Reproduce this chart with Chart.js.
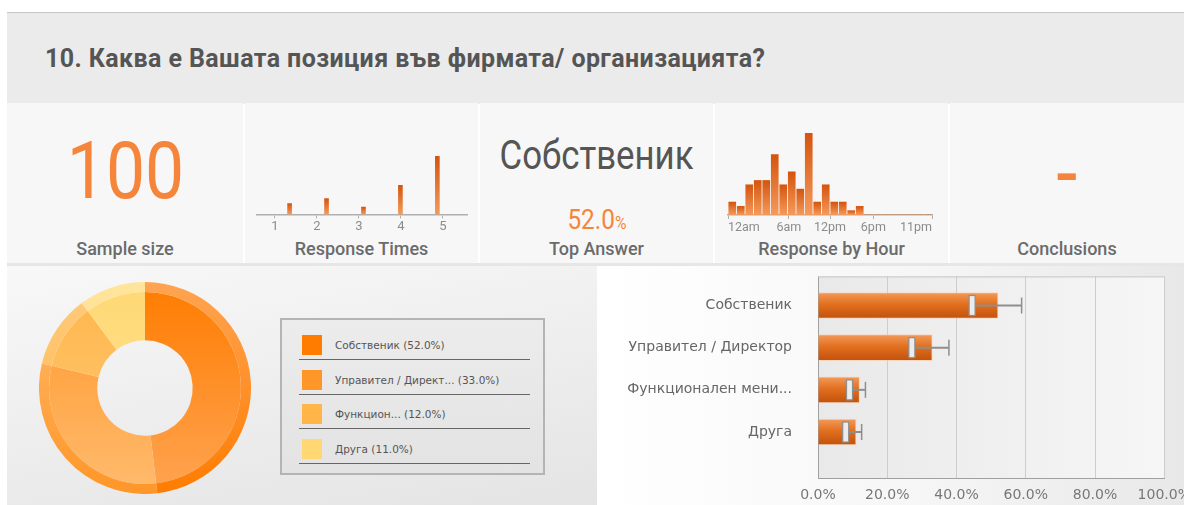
<!DOCTYPE html>
<html>
<head>
<meta charset="utf-8">
<script src="https://cdn.jsdelivr.net/npm/chart.js@4.4.1/dist/chart.umd.min.js"></script>
<style>
  body { margin: 0; width: 1184px; height: 505px; overflow: hidden; background: #fff; position: relative; font-family: Roboto, "Noto Sans", sans-serif; }
  .abs { position: absolute; }
  #header { left: 7px; top: 12px; width: 1177px; height: 91px; background: #ebebeb; border-top: 1px solid #c6c6c6; }
  #title { left: 45px; top: 44px; font-weight: 700; font-size: 25px; color: #555; white-space: nowrap; letter-spacing: 0.4px; }
  .panel { top: 103px; height: 160px; background: #f7f7f7; }
  .cap { position: absolute; left: 0; width: 100%; top: 135px; text-align: center; font-size: 18px; font-weight: 500; color: #6b6b6b; }
  .cond { display: inline-block; transform: scaleX(0.87); transform-origin: center; }
  #rowline { left: 7px; top: 263px; width: 1177px; height: 3px; background: #e6e6e6; }
  #botLeft { left: 7px; top: 266px; width: 590px; height: 239px; background: linear-gradient(170deg, #f8f8f8 0%, #e4e4e4 100%); }
  #botRight { left: 599px; top: 266px; width: 585px; height: 239px; background: linear-gradient(to right, #ffffff 0%, #f6f6f6 55%, #e8e8e8 100%); }
  #legendBox { left: 280px; top: 318px; width: 261px; height: 153px; border: 2px solid #b4b4b4; background: linear-gradient(#ececec, #e3e3e3); }
  .lgItem { position: absolute; left: 17px; width: 231px; height: 33px; border-bottom: 1px solid #666; }
  .lgSw { position: absolute; left: 3px; top: 9px; width: 20px; height: 20px; }
  .lgTx { position: absolute; left: 36px; top: 13px; font-family: "DejaVu Sans", sans-serif; font-size: 10.5px; color: #555; white-space: nowrap; }
</style>
</head>
<body>
<div id="header" class="abs"></div>
<div id="title" class="abs">10. Каква е Вашата позиция във фирмата/ организацията?</div>

<div class="abs panel" style="left:7px;width:236px;">
  <div class="abs" style="left:0;width:100%;top:21px;text-align:center;font-size:80px;font-weight:400;color:#f5853a;"><span id="sample" class="cond"></span></div>
  <div class="cap">Sample size</div>
</div>
<div class="abs panel" style="left:245px;width:233px;"><div class="cap">Response Times</div></div>
<div class="abs panel" style="left:480px;width:233px;">
  <div class="abs" style="left:0;width:100%;top:29px;text-align:center;font-size:40px;color:#555;"><span id="topName" class="cond"></span></div>
  <div class="abs" style="left:0;width:100%;top:100px;text-align:center;font-size:28px;color:#f5853a;"><span id="topPct" class="cond"></span></div>
  <div class="cap">Top Answer</div>
</div>
<div class="abs panel" style="left:715px;width:233px;"><div class="cap">Response by Hour</div></div>
<div class="abs panel" style="left:950px;width:234px;">
  <div class="abs" style="left:0;width:100%;top:30px;text-align:center;font-size:70px;font-weight:500;color:#f5853a;">-</div>
  <div class="cap">Conclusions</div>
</div>
<div id="rowline" class="abs"></div>

<canvas id="rtChart" class="abs" style="left:256px;top:140px;" width="212" height="96"></canvas>
<canvas id="hourChart" class="abs" style="left:727px;top:133px;" width="206" height="103"></canvas>

<div id="botLeft" class="abs"></div>
<div id="botRight" class="abs"></div>
<canvas id="donut" class="abs" style="left:39px;top:282px;" width="212" height="212"></canvas>
<div id="legendBox" class="abs"></div>
<canvas id="barChart" class="abs" style="left:600px;top:250px;" width="600" height="263"></canvas>

<script>
// ---- data ----
const categories = ['Собственик', 'Управител / Директор', 'Функционален мени...', 'Друга'];
const legendLabels = ['Собственик', 'Управител / Директ...', 'Функцион...', 'Друга'];
const shares = [52.0, 33.0, 12.0, 11.0];
const ciLow = [44.5, 27.1, 9.1, 8.0];
const ciHigh = [58.8, 37.8, 13.7, 12.6];
const sampleSize = 100;

const rtTicks = [1, 2, 3, 4, 5];
const rtPos = [1.35, 2.23, 3.11, 3.99, 4.87];
const rtCounts = [9, 13, 6, 24, 48];

const hourCounts = [3, 2, 7, 8, 8, 14, 7, 10, 6, 19, 3, 7, 3, 3, 1, 2, 0, 0, 0, 0, 0, 0, 0, 0];
// tick marks sit where the source widget put them (not evenly spaced)
const hourTickPos = [0, 7.15, 12, 17.1, 24];
const hourTickLabels = ['12am', '6am', '12pm', '6pm', '11pm'];

const sliceColors = ['#ff7c00', '#ff9628', '#ffb548', '#ffd873'];
const sliceLight = ['#ffa452', '#ffbb6e', '#ffcb7e', '#ffe49c'];

// ---- stats ----
document.getElementById('sample').textContent = sampleSize;
document.getElementById('topName').textContent = categories[0];
document.getElementById('topPct').innerHTML = shares[0].toFixed(1) + '<span style="font-size:18px">%</span>';

// legend
const lgBox = document.getElementById('legendBox');
legendLabels.forEach((l, i) => {
    const d = document.createElement('div');
    d.className = 'lgItem';
    d.style.top = (6 + i * 34.5) + 'px';
    d.innerHTML = '<div class="lgSw" style="background:' + sliceColors[i] + '"></div><div class="lgTx">' + l + ' (' + shares[i].toFixed(1) + '%)</div>';
    lgBox.appendChild(d);
});

Chart.defaults.animation = false;
Chart.defaults.responsive = false;
Chart.defaults.plugins.legend.display = false;
Chart.defaults.plugins.tooltip.enabled = false;

// vertical gradient for a single small bar
function miniBarGrad(ctx) {
    const chart = ctx.chart;
    const ys = chart.scales.y;
    if (!ys || ctx.parsed == null) return '#e4701f';
    const top = ys.getPixelForValue(ctx.parsed.y);
    const base = ys.getPixelForValue(0);
    if (!isFinite(top) || base - top < 1) return '#e4701f';
    const g = chart.ctx.createLinearGradient(0, top, 0, base);
    g.addColorStop(0, '#d4550e');
    g.addColorStop(1, '#f59a5c');
    return g;
}

// ---- Response Times ----
new Chart(document.getElementById('rtChart'), {
    type: 'bar',
    data: {
        datasets: [{
            data: rtPos.map((x, i) => ({ x: x, y: rtCounts[i] })),
            backgroundColor: miniBarGrad,
            barThickness: 4
        }]
    },
    options: {
        layout: { padding: 0 },
        scales: {
            x: {
                type: 'linear', min: 0.55, max: 5.6, offset: false,
                afterBuildTicks: s => { s.ticks = rtTicks.map(v => ({ value: v })); },
                grid: { drawOnChartArea: false, offset: false, tickLength: 4, color: '#b0b0b0' },
                border: { color: '#b0b0b0', width: 1.5 },
                ticks: { color: '#8c8c8c', font: { size: 13, family: 'Roboto' }, padding: 1 }
            },
            y: { display: false, min: 0, max: 61.5 }
        }
    }
});

// ---- Response by Hour ----
new Chart(document.getElementById('hourChart'), {
    type: 'bar',
    data: {
        datasets: [{
            data: hourCounts.map((v, i) => ({ x: i + 0.5, y: v })),
            backgroundColor: miniBarGrad,
            barThickness: 7
        }]
    },
    options: {
        layout: { padding: 0 },
        scales: {
            x: {
                type: 'linear', min: 0, max: 24, offset: false,
                afterBuildTicks: s => { s.ticks = hourTickPos.map(v => ({ value: v })); },
                grid: { drawOnChartArea: false, offset: false, tickLength: 4, color: '#b0b0b0' },
                border: { color: '#b0b0b0', width: 1.5 },
                ticks: {
                    color: '#8c8c8c', font: { size: 12.5, family: 'Roboto' }, padding: 1, align: 'inner',
                    callback: v => hourTickLabels[hourTickPos.indexOf(v)]
                }
            },
            y: { display: false, min: 0, max: 19 }
        }
    }
});

// ---- doughnut ----
function ringGrad(outer) {
    return ctx => {
        const area = ctx.chart.chartArea;
        const i = ctx.dataIndex;
        if (!area) return sliceColors[i];
        const g = ctx.chart.ctx.createLinearGradient(0, area.top, 0, area.bottom);
        g.addColorStop(0, outer ? sliceLight[i] : sliceColors[i]);
        g.addColorStop(1, outer ? sliceColors[i] : sliceLight[i]);
        return g;
    };
}

new Chart(document.getElementById('donut'), {
    type: 'doughnut',
    data: {
        labels: legendLabels,
        datasets: [
            { data: shares, backgroundColor: ringGrad(true), borderWidth: 0, weight: 10 },
            { data: shares, backgroundColor: ringGrad(false), borderWidth: 0, weight: 48 }
        ]
    },
    options: { cutout: '45%', layout: { padding: 0 } }
});

// ---- horizontal bar chart with error bars ----
const plotFrame = {
    id: 'plotFrame',
    beforeDatasetsDraw(chart) {
        const { ctx, chartArea: a } = chart;
        ctx.save();
        const g = ctx.createLinearGradient(a.left, 0, a.right, 0);
        g.addColorStop(0, '#e9e9e9');
        g.addColorStop(1, '#f6f6f6');
        ctx.fillStyle = g;
        ctx.globalCompositeOperation = 'destination-over';
        ctx.fillRect(a.left, a.top, a.right - a.left, a.bottom - a.top);
        ctx.restore();
    },
    afterDraw(chart) {
        const { ctx, chartArea: a } = chart;
        ctx.save();
        ctx.strokeStyle = '#c4c4c4';
        ctx.lineWidth = 1;
        ctx.beginPath();
        ctx.moveTo(a.left, a.top + 0.5); ctx.lineTo(a.right, a.top + 0.5);
        ctx.stroke();
        ctx.restore();
    }
};

const errorBars = {
    id: 'errorBars',
    afterDatasetsDraw(chart) {
        const { ctx, scales: { x, y } } = chart;
        ctx.save();
        categories.forEach((c, i) => {
            const yc = y.getPixelForValue(i);
            const xl = x.getPixelForValue(ciLow[i]);
            const xr = x.getPixelForValue(ciHigh[i]);
            ctx.strokeStyle = '#8e8e8e';
            ctx.lineWidth = 2;
            ctx.beginPath();
            ctx.moveTo(xl, yc); ctx.lineTo(xr, yc);
            ctx.stroke();
            ctx.lineWidth = 1.5;
            ctx.beginPath();
            ctx.moveTo(xr, yc - 8); ctx.lineTo(xr, yc + 8);
            ctx.stroke();
            ctx.fillStyle = '#ececec';
            ctx.fillRect(xl - 3, yc - 10, 6, 20);
            ctx.lineWidth = 1.2;
            ctx.strokeRect(xl - 3, yc - 10, 6, 20);
        });
        ctx.restore();
    }
};

function hBarGrad(ctx) {
    const chart = ctx.chart;
    const ys = chart.scales.y;
    if (!ys || ctx.parsed == null) return '#e06a20';
    const yc = ys.getPixelForValue(ctx.parsed.y);
    if (!isFinite(yc)) return '#e06a20';
    const g = chart.ctx.createLinearGradient(0, yc - 13, 0, yc + 13);
    g.addColorStop(0, '#f39a5a');
    g.addColorStop(0.45, '#e2701f');
    g.addColorStop(1, '#c2510c');
    return g;
}

new Chart(document.getElementById('barChart'), {
    type: 'bar',
    data: {
        datasets: [{
            data: shares.map((v, i) => ({ x: v, y: i })),
            backgroundColor: hBarGrad,
            borderColor: 'rgba(255,200,160,0.6)',
            borderWidth: 1,
            barThickness: 26
        }]
    },
    options: {
        indexAxis: 'y',
        layout: { padding: { top: 7, right: 35, bottom: 0, left: 0 } },
        scales: {
            x: {
                type: 'linear', min: 0, max: 100,
                ticks: { stepSize: 20, padding: 9, color: '#777', font: { size: 14, family: 'DejaVu Sans' }, callback: v => v.toFixed(1) + '%' },
                grid: { color: '#cdcdcd', drawTicks: false },
                border: { color: '#a0a0a0' }
            },
            y: {
                type: 'linear', min: -0.69, max: 4.095, reverse: true, offset: false,
                afterBuildTicks: s => { s.ticks = categories.map((c, i) => ({ value: i })); },
                afterFit: s => { s.width = 218; },
                ticks: { padding: 18, color: '#666', font: { size: 14, family: 'DejaVu Sans' }, callback: v => categories[v] },
                grid: { display: false, offset: false },
                border: { display: true, color: '#a0a0a0' }
            }
        }
    },
    plugins: [plotFrame, errorBars]
});
</script>
</body>
</html>
